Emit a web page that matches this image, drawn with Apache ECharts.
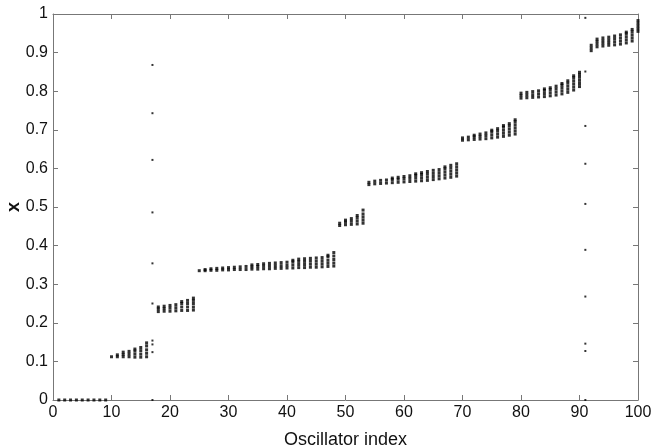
<!DOCTYPE html>
<html>
<head>
<meta charset="utf-8">
<script src="https://cdn.jsdelivr.net/npm/echarts@6/dist/echarts.min.js"></script>
<style>
  html, body { margin: 0; padding: 0; background: #fff; }
  #main { width: 651px; height: 445px; }
</style>
</head>
<body>
<div id="main"></div>
<script>
// x values of each oscillator, one inner list per oscillator
// each group starts at the given oscillator index
const groupZeroStart = 1;
const groupZero = [[0], [0], [0], [0], [0], [0], [0], [0], [0]];

const groupAStart = 10;
const groupA = [
    [0.112],
    [0.112, 0.117],
    [0.112, 0.118, 0.124],
    [0.112, 0.119, 0.126],
    [0.111, 0.119, 0.127, 0.132],
    [0.111, 0.119, 0.128, 0.136],
    [0.112, 0.121, 0.130, 0.140, 0.148]
];

const stray17 = [0, 0.124, 0.144, 0.154, 0.25, 0.354, 0.486, 0.622, 0.743, 0.868];

const groupBStart = 18;
const groupB = [
    [0.229, 0.236, 0.241],
    [0.230, 0.237, 0.243],
    [0.230, 0.238, 0.245],
    [0.231, 0.239, 0.247],
    [0.232, 0.241, 0.250, 0.255],
    [0.232, 0.241, 0.250, 0.258],
    [0.233, 0.241, 0.250, 0.258, 0.264]
];

const groupCStart = 25;
const groupC = [
    [0.335],
    [0.335, 0.338],
    [0.336, 0.340],
    [0.336, 0.341],
    [0.337, 0.342],
    [0.337, 0.343],
    [0.338, 0.344],
    [0.338, 0.345],
    [0.338, 0.346],
    [0.339, 0.345, 0.350],
    [0.339, 0.346, 0.351],
    [0.340, 0.347, 0.353],
    [0.340, 0.347, 0.354],
    [0.341, 0.348, 0.355],
    [0.341, 0.348, 0.356],
    [0.342, 0.349, 0.357],
    [0.342, 0.350, 0.358, 0.362],
    [0.343, 0.351, 0.359, 0.365],
    [0.343, 0.351, 0.359, 0.366],
    [0.344, 0.352, 0.360, 0.367],
    [0.344, 0.352, 0.360, 0.368],
    [0.345, 0.353, 0.361, 0.369],
    [0.346, 0.354, 0.362, 0.371, 0.375],
    [0.347, 0.355, 0.364, 0.373, 0.382]
];

const groupDStart = 49;
const groupD = [
    [0.452, 0.458],
    [0.454, 0.461, 0.466],
    [0.455, 0.463, 0.470],
    [0.456, 0.464, 0.472, 0.478],
    [0.458, 0.466, 0.474, 0.482, 0.492]
];

const groupEStart = 54;
const groupE = [
    [0.558, 0.564],
    [0.560, 0.567],
    [0.561, 0.569],
    [0.562, 0.570],
    [0.563, 0.571, 0.575],
    [0.564, 0.572, 0.577],
    [0.565, 0.573, 0.579],
    [0.566, 0.574, 0.581],
    [0.567, 0.575, 0.582, 0.586],
    [0.568, 0.576, 0.584, 0.589],
    [0.569, 0.577, 0.585, 0.592],
    [0.571, 0.579, 0.587, 0.595],
    [0.573, 0.581, 0.589, 0.597],
    [0.575, 0.583, 0.591, 0.599, 0.604],
    [0.577, 0.585, 0.593, 0.601, 0.608],
    [0.580, 0.588, 0.596, 0.604, 0.612]
];

const groupFStart = 70;
const groupF = [
    [0.673, 0.679],
    [0.674, 0.681],
    [0.675, 0.682, 0.686],
    [0.676, 0.683, 0.689],
    [0.677, 0.685, 0.692],
    [0.679, 0.687, 0.695, 0.699],
    [0.681, 0.689, 0.697, 0.703],
    [0.683, 0.691, 0.699, 0.707, 0.711],
    [0.686, 0.694, 0.702, 0.710, 0.716],
    [0.689, 0.697, 0.705, 0.713, 0.721, 0.726]
];

const groupGStart = 80;
const groupG = [
    [0.782, 0.789, 0.795],
    [0.783, 0.790, 0.797],
    [0.784, 0.791, 0.799],
    [0.785, 0.793, 0.801],
    [0.786, 0.794, 0.802, 0.806],
    [0.788, 0.796, 0.804, 0.809],
    [0.790, 0.798, 0.806, 0.813],
    [0.793, 0.801, 0.809, 0.816, 0.820],
    [0.797, 0.805, 0.813, 0.821, 0.827],
    [0.803, 0.811, 0.819, 0.827, 0.835, 0.840],
    [0.812, 0.820, 0.828, 0.836, 0.843, 0.849]
];

const stray91 = [0, 0.127, 0.146, 0.268, 0.389, 0.508, 0.612, 0.71, 0.851, 0.99];

const groupHStart = 92;
const groupH = [
    [0.905, 0.912, 0.919],
    [0.915, 0.922, 0.929, 0.935],
    [0.917, 0.924, 0.931, 0.938],
    [0.919, 0.926, 0.933, 0.940],
    [0.920, 0.928, 0.936, 0.943],
    [0.922, 0.930, 0.938, 0.946],
    [0.925, 0.933, 0.941, 0.949, 0.953],
    [0.930, 0.938, 0.946, 0.954, 0.960],
    [0.955, 0.962, 0.969, 0.976, 0.983]
];

const xTicks = [0, 10, 20, 30, 40, 50, 60, 70, 80, 90, 100];

// flatten into [index, x] pairs
let points = [];
let strayPoints = [];
function addGroup(target, start, group) {
    group.forEach((vals, k) => {
        vals.forEach(v => target.push([start + k, v]));
    });
}
addGroup(points, groupZeroStart, groupZero);
addGroup(points, groupAStart, groupA);
addGroup(points, groupBStart, groupB);
addGroup(points, groupCStart, groupC);
addGroup(points, groupDStart, groupD);
addGroup(points, groupEStart, groupE);
addGroup(points, groupFStart, groupF);
addGroup(points, groupGStart, groupG);
addGroup(points, groupHStart, groupH);
addGroup(strayPoints, 17, [stray17]);
addGroup(strayPoints, 91, [stray91]);

const axisColor = '#777';
const textColor = '#111';
const fontFamily = 'Liberation Sans, Arial, sans-serif';

var chartDom = document.getElementById('main');
var myChart = echarts.init(chartDom, null, { renderer: 'canvas' });

let option = {
    animation: false,
    grid: { left: 53, right: 13, top: 14, bottom: 45, containLabel: false, outerBoundsMode: 'none' },
    xAxis: [{
        type: 'value',
        min: xTicks[0],
        max: xTicks[xTicks.length - 1],
        interval: 10,
        name: 'Oscillator index',
        nameLocation: 'middle',
        nameGap: 31,
        nameMoveOverlap: false,
        nameTextStyle: { color: textColor, fontSize: 18, fontFamily: fontFamily },
        axisLine: { show: true, lineStyle: { color: axisColor, width: 1 } },
        axisTick: { show: true, inside: true, length: 5, lineStyle: { color: axisColor } },
        axisLabel: { color: textColor, fontSize: 16, fontFamily: fontFamily, margin: 5 },
        splitLine: { show: false }
    }, {
        type: 'value',
        position: 'top',
        min: 0, max: 100, interval: 10,
        axisLine: { show: true, onZero: false, lineStyle: { color: axisColor, width: 1 } },
        axisTick: { show: true, inside: true, length: 5, lineStyle: { color: axisColor } },
        axisLabel: { show: false },
        splitLine: { show: false }
    }],
    yAxis: [{
        type: 'value',
        min: 0,
        max: 1,
        interval: 0.1,
        name: 'x',
        nameLocation: 'middle',
        nameGap: 30,
        nameMoveOverlap: false,
        nameRotate: 90,
        nameTextStyle: { color: textColor, fontSize: 18, fontWeight: 'bold', fontFamily: fontFamily },
        axisLine: { show: true, lineStyle: { color: axisColor, width: 1 } },
        axisTick: { show: true, inside: true, length: 5, lineStyle: { color: axisColor } },
        axisLabel: { color: textColor, fontSize: 16, fontFamily: fontFamily, margin: 5 },
        splitLine: { show: false }
    }, {
        type: 'value',
        position: 'right',
        min: 0, max: 1, interval: 0.1,
        axisLine: { show: true, onZero: false, lineStyle: { color: axisColor, width: 1 } },
        axisTick: { show: true, inside: true, length: 5, lineStyle: { color: axisColor } },
        axisLabel: { show: false },
        splitLine: { show: false }
    }],
    series: [{
        type: 'scatter',
        data: points,
        symbol: 'rect',
        symbolSize: [3, 3],
        itemStyle: { color: '#000' },
        clip: false
    }, {
        type: 'scatter',
        data: strayPoints,
        symbol: 'rect',
        symbolSize: [2, 2],
        itemStyle: { color: '#000' },
        clip: false
    }]
};
option && myChart.setOption(option);
</script>
</body>
</html>
